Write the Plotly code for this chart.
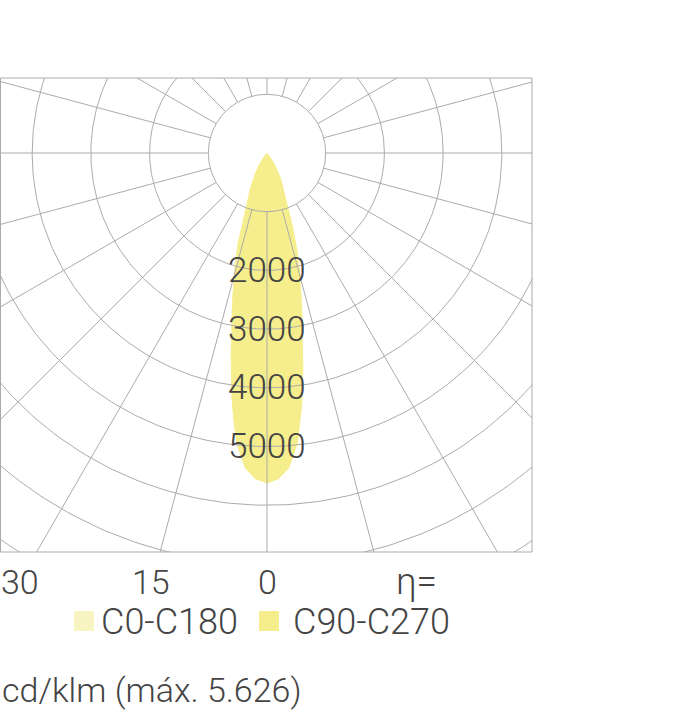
import numpy as np
import plotly.graph_objects as go

# ---- data -------------------------------------------------------------
gamma_deg = [0, 2, 4, 6, 8, 10, 12, 14, 16, 18, 20, 22, 25, 30, 35, 40, 45, 50, 60, 90]
c0_c180 = [5626, 5560, 5380, 4980, 4300, 3550, 2900, 2400, 2000, 1600, 1200, 950, 700, 420, 220, 100, 40, 10, 0, 0]
c90_c270 = [5626, 5560, 5380, 4980, 4300, 3550, 2900, 2400, 2000, 1600, 1200, 950, 700, 420, 220, 100, 40, 10, 0, 0]
ring_values = [1000, 2000, 3000, 4000, 5000, 6000, 7000, 8000, 9000]
ring_labels = ["2000", "3000", "4000", "5000"]
ring_label_values = [2000, 3000, 4000, 5000]
spoke_step_deg = 15
tick_labels = ["30", "15", "0"]
series_names = ["C0-C180", "C90-C270"]
series_colors = ["#f8f4c2", "#f6ee8c"]
unit_text = "cd/klm (máx. 5.626)"
eta_text = "η="

# ---- layout helpers ------------------------------------------------------
W, H = 694, 720
def px(x):
    return x / W
def py(y):
    return 1 - y / H

grid_color = "#ababab"
text_color = "#444444"
FONT = "Roboto, Liberation Sans, Arial, sans-serif"
FW = 300

fig = go.Figure()

def lobe_xy(vals):
    g = np.radians(np.array(gamma_deg, dtype=float))
    v = np.array(vals, dtype=float)
    ang = np.concatenate([-g[::-1], g[1:]])
    rr = np.concatenate([v[::-1], v[1:]])
    fine = np.linspace(ang.min(), ang.max(), 721)
    rf = np.interp(fine, ang, rr)
    return rf * np.sin(fine), -rf * np.cos(fine)

for name, vals, col in zip(series_names, [c0_c180, c90_c270], series_colors):
    x, y = lobe_xy(vals)
    fig.add_trace(go.Scatter(x=x, y=y, mode="lines", fill="toself",
                             fillcolor=col, line=dict(width=0, color=col),
                             name=name, showlegend=False, hoverinfo="skip"))

# rings
t = np.linspace(0, 2 * np.pi, 361)
gx, gy = [], []
for r in ring_values:
    gx += list(r * np.cos(t)) + [None]
    gy += list(r * np.sin(t)) + [None]
# spokes, starting at the first ring
r0, r1 = ring_values[0], 12000
for a in range(0, 360, spoke_step_deg):
    ar = np.radians(a)
    gx += [r0 * np.cos(ar), r1 * np.cos(ar), None]
    gy += [r0 * np.sin(ar), r1 * np.sin(ar), None]
fig.add_trace(go.Scatter(x=gx, y=gy, mode="lines",
                         line=dict(color=grid_color, width=1),
                         showlegend=False, hoverinfo="skip"))

for lab, val in zip(ring_labels, ring_label_values):
    fig.add_annotation(x=0, y=-val, xref="x", yref="y", text=lab,
                       showarrow=False, xanchor="center", yanchor="middle",
                       font=dict(family=FONT, size=35, color=text_color, weight=FW))

# scale: 58.7 px per 1000, centre at (267,153) px; plot box 0..532 x 78..552
scale = 58.7 / 1000
cx, cy = 267, 153
x0p, x1p, y0p, y1p = 0, 532, 78, 552
fig.update_xaxes(range=[(x0p - cx) / scale, (x1p - cx) / scale],
                 domain=[px(x0p), px(x1p)], visible=False, fixedrange=True)
fig.update_yaxes(range=[(cy - y1p) / scale, (cy - y0p) / scale],
                 domain=[py(y1p), py(y0p)], visible=False, fixedrange=True)

fig.add_shape(type="rect", xref="paper", yref="paper",
              x0=px(x0p + 0.5), x1=px(x1p), y0=py(y1p), y1=py(y0p),
              line=dict(color=grid_color, width=1))

for lab, xc in zip(tick_labels, [20, 151, 267]):
    fig.add_annotation(x=px(xc), y=py(582), xref="paper", yref="paper", text=lab,
                       showarrow=False, xanchor="center", yanchor="middle",
                       font=dict(family=FONT, size=34, color=text_color, weight=FW))
fig.add_annotation(x=px(394), y=py(581), xref="paper", yref="paper", text=eta_text,
                   showarrow=False, xanchor="left", yanchor="middle",
                   font=dict(family=FONT, size=37, color=text_color, weight=FW))

for name, col, sx, tx in zip(series_names, series_colors, [74, 259], [99, 291]):
    fig.add_shape(type="rect", xref="paper", yref="paper",
                  x0=px(sx), x1=px(sx + 20), y0=py(631), y1=py(611),
                  fillcolor=col, line=dict(width=0))
    fig.add_annotation(x=px(tx), y=py(622), xref="paper", yref="paper", text=name,
                       showarrow=False, xanchor="left", yanchor="middle",
                       font=dict(family=FONT, size=36, color=text_color, weight=FW))

fig.add_annotation(x=px(0), y=py(690), xref="paper", yref="paper", text=unit_text,
                   showarrow=False, xanchor="left", yanchor="middle",
                   font=dict(family=FONT, size=34, color=text_color, weight=FW))

fig.update_layout(width=W, height=H, margin=dict(l=0, r=0, t=0, b=0),
                  paper_bgcolor="white", plot_bgcolor="white", showlegend=False)

fig.write_html("out.html", config={"displayModeBar": False},
               post_script="document.body.style.margin='0';document.body.style.overflow='hidden';")
